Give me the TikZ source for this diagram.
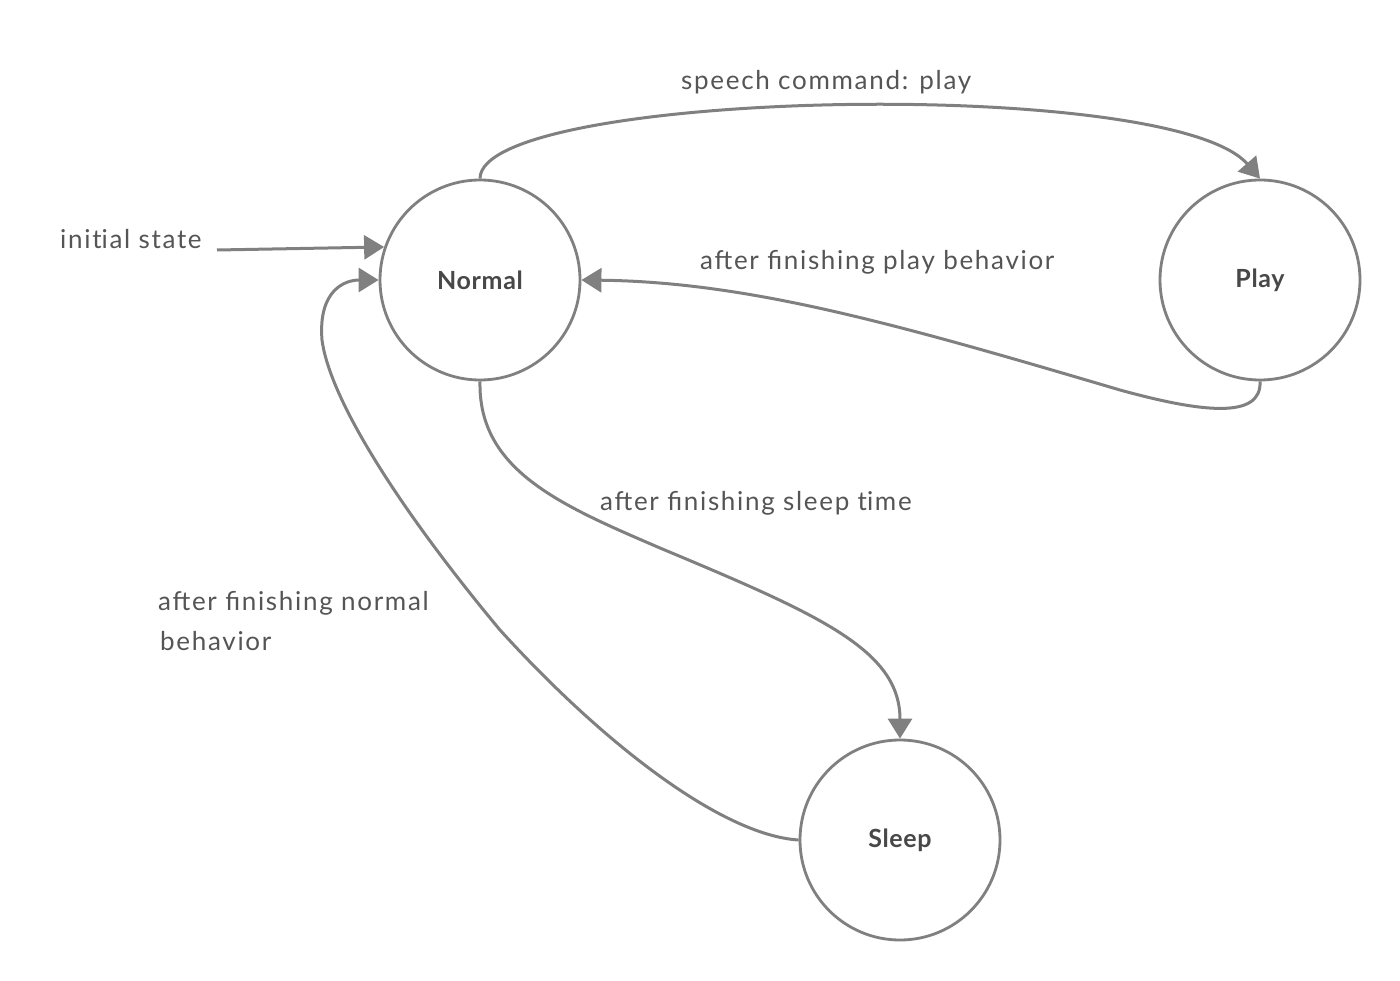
\documentclass[tikz,border=0pt]{standalone}
\usepackage{fontspec}
\setmainfont{Lato}
\newfontfamily\lblfont[LetterSpace=6.5]{Lato}
\newfontfamily\statefont[LetterSpace=2.5]{Lato}
\usetikzlibrary{arrows.meta}
\definecolor{linec}{RGB}{128,128,128}
\definecolor{txtc}{RGB}{72,72,72}
\definecolor{lblc}{RGB}{85,85,85}
\newcommand{\nolig}{\kern0pt{}}
\tikzset{
  state/.style={circle, draw=linec, line width=2.8pt, minimum size=200pt, inner sep=0pt,
    font=\statefont\fontsize{25}{30}\selectfont\bfseries, text=txtc},
  lbl/.style={anchor=base west, inner sep=0pt, font=\lblfont\fontsize{26}{40}\selectfont, text=lblc, align=left},
  conn/.style={draw=linec, line width=3pt, -{Triangle[length=20pt,width=24pt]}},
}
\begin{document}
\begin{tikzpicture}[x=1pt,y=-1pt]
\useasboundingbox[fill=white] (0,0) rectangle (1400,981);
\node[state] (N) at (480,280) {Normal};
\node[state] (P) at (1260,280) {Play};
\node[state] (S) at (900,840) {Sleep};
\coordinate (init) at (217,250);

\node[lbl] (l1) at (681,90) {speech command: play};
\node[lbl] (l2) at (60,249) {init\nolig ial state};
\node[lbl] (l3) at (700,270) {after finishing play behavior};
\node[lbl] (l4) at (600,510) {after finishing sleep t\nolig ime};
\node[lbl] (l5) at (158,610) {after finishing normal};
\node[lbl] (l6) at (160,650) {behavior};

\draw[conn] (init) -- (N.161);
\draw[conn] (N.north) .. controls (480,90) and (1170,75) .. (P.north);
\draw[conn] (P.south) .. controls (1262,420) and (1200,412) .. (1120,390)
  .. controls (900,325) and (750,282) .. (N.east);
\draw[conn] (N.south) .. controls (478,470) and (560,505) .. (660,548)
  .. controls (820,615) and (900,650) .. (S.north);
\draw[conn] (S.west) .. controls (720,835) and (600,740) .. (500,630)
  .. controls (400,510) and (330,400) .. (322,340)
  .. controls (318,290) and (345,280) .. (N.west);
\end{tikzpicture}
\end{document}
